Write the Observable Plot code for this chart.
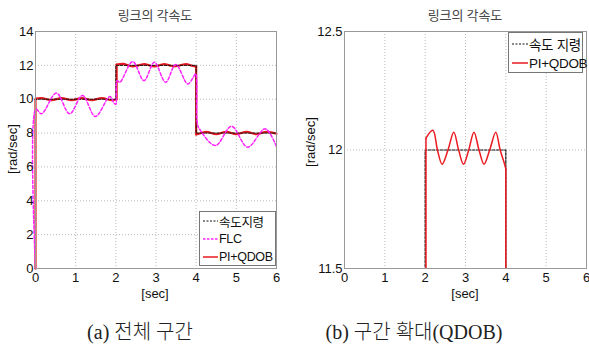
<!DOCTYPE html>
<html>
<head>
<meta charset="utf-8">
<script src="https://cdn.jsdelivr.net/npm/d3@7"></script>
<script src="https://cdn.jsdelivr.net/npm/@observablehq/plot@0.6"></script>
<style>
  body { margin: 0; background: #fff; }
  #wrap { position: relative; width: 589px; height: 345px; overflow: hidden; font-family: "Liberation Sans", Arial, "Noto Sans CJK KR", sans-serif; }
  .abs { position: absolute; white-space: nowrap; }
  .title { font-family: "Noto Sans CJK KR", sans-serif; font-size: 13px; color: #444; transform: translate(-50%, -50%); }
  .xlab { font-size: 13px; color: #111; transform: translate(-50%, -50%); }
  .ylab { font-size: 13px; color: #111; transform: translate(-50%, -50%) rotate(-90deg); }
  .cap { font-family: "Liberation Serif", "Noto Sans CJK KR", serif; font-size: 20px; color: #222; transform: translate(-50%, -50%); font-weight: 300; }
  .legend { background: #fff; border: 1px solid #777; box-sizing: border-box; }
  .row { position: absolute; left: 0; display: flex; align-items: center; }
  .row span { color: #111; }
</style>
</head>
<body>
<div id="wrap"></div>
<script>
// ---- data ----
const refTime   = [0, 0, 2, 2, 4, 4, 6];
const refValues = [0, 10, 10, 12, 12, 8, 8];

const flcTime   = [0, 0.01, 0.15, 0.52, 0.85, 1.17, 1.49, 1.85, 1.96, 2.0, 2.03, 2.1, 2.42, 2.70, 2.96, 3.24, 3.49, 3.79, 3.93, 3.99, 4.03, 4.08, 4.48, 4.88, 5.28, 5.72, 6.0];
const flcValues = [0, 9.4, 9.14, 10.36, 9.14, 10.22, 8.98, 10.16, 9.75, 9.7, 11.1, 11.0, 12.22, 11.1, 12.18, 11.0, 12.05, 10.9, 11.3, 11.5, 8.55, 8.25, 7.26, 8.4, 7.17, 8.25, 7.2];

const qdobTime   = [0, 0, 0.03, 0.15, 0.4, 0.65, 0.9, 1.15, 1.4, 1.65, 1.9, 2.02, 2.02, 2.19, 2.305, 2.42, 2.565, 2.71, 2.83, 2.95, 3.08, 3.21, 3.335, 3.46, 3.6, 3.75, 3.86, 3.97, 4.0, 4.0, 4.03, 4.25, 4.5, 4.75, 5.0, 5.25, 5.5, 5.75, 6.0];
const qdobValues = [0, 10.0, 10.04, 10.07, 9.94, 10.07, 9.94, 10.07, 9.94, 10.07, 9.94, 10.0, 12.05, 12.083, 12.0, 11.94, 12.0, 12.075, 12.0, 11.94, 12.0, 12.075, 12.0, 11.94, 12.0, 12.075, 12.0, 11.94, 11.92, 7.92, 7.93, 8.07, 7.93, 8.07, 7.93, 8.07, 7.93, 8.07, 7.96];

const xTicks = [0, 1, 2, 3, 4, 5, 6];
const yTicksA = [0, 2, 4, 6, 8, 10, 12, 14];
const yTicksB = [11.5, 12, 12.5];
const yTickLabelsB = ["11.5", "12", "12.5"];

const titleText = "링크의 각속도";
const legendA = ["속도지령", "FLC", "PI+QDOB"];
const legendB = ["속도 지령", "PI+QDOB"];
const captions = ["(a) 전체 구간", "(b) 구간 확대(QDOB)"];

// Split a series into smooth pieces (z) and vertical jump pairs (where time repeats)
function splitSeries(ts, vs) {
  const smooth = [], jumps = [];
  let seg = 0;
  for (let i = 0; i < ts.length; i++) {
    if (i > 0 && ts[i] === ts[i - 1]) {
      jumps.push({t: ts[i - 1], v: vs[i - 1], z: i}, {t: ts[i], v: vs[i], z: i});
      seg++;
    }
    smooth.push({t: ts[i], v: vs[i], z: seg});
  }
  return {smooth, jumps};
}

const ref  = refTime.map((t, i) => ({t, v: refValues[i]}));
const flcS = splitSeries(flcTime, flcValues);
const qdobS = splitSeries(qdobTime, qdobValues);

const RED = "#ea1a20", MAG = "#ff22ff", BLK = "#111";

const wrap = document.getElementById("wrap");
function addDiv(cls, text, x, y, extra = {}) {
  const d = document.createElement("div");
  d.className = "abs " + cls;
  d.textContent = text;
  d.style.left = x + "px"; d.style.top = y + "px";
  Object.assign(d.style, extra);
  wrap.appendChild(d);
  return d;
}

function seriesMarks(s, opts) {
  return [
    Plot.line(s.smooth, {x: "t", y: "v", z: "z", curve: "catmull-rom", ...opts}),
    Plot.line(s.jumps, {x: "t", y: "v", z: "z", ...opts})
  ];
}

function common(yTicks, yFmt, marks) {
  return [
    Plot.gridX(xTicks, {stroke: "#bbb", strokeOpacity: 1, strokeDasharray: "1,2"}),
    Plot.gridY(yTicks, {stroke: "#bbb", strokeOpacity: 1, strokeDasharray: "1,2"}),
    ...marks,
    Plot.frame({stroke: "#999"}),
    Plot.axisX(xTicks, {tickSize: 0, tickPadding: 4, fontSize: 13, label: null, tickFormat: d => String(d)}),
    Plot.axisY(yTicks, {tickSize: 0, tickPadding: 2, fontSize: 13, label: null, tickFormat: yFmt})
  ];
}

// ---- left chart ----
const plotA = Plot.plot({
  width: 295, height: 300,
  marginLeft: 35, marginRight: 19, marginTop: 31, marginBottom: 32,
  x: {domain: [0, 6]},
  y: {domain: [0, 14]},
  style: {fontFamily: "Liberation Sans, Arial, sans-serif", color: "#111", overflow: "visible", background: "transparent"},
  marks: common(yTicksA, d => String(d), [
    ...seriesMarks(qdobS, {stroke: RED, strokeWidth: 2.2}),
    Plot.line(ref, {x: "t", y: "v", stroke: BLK, strokeWidth: 1, strokeDasharray: "2.5,1.5"}),
    ...seriesMarks(flcS, {stroke: MAG, strokeWidth: 1.5, strokeDasharray: "3,2"})
  ])
});
plotA.style.position = "absolute"; plotA.style.left = "0px"; plotA.style.top = "0px";
wrap.appendChild(plotA);

// ---- right chart ----
const plotB = Plot.plot({
  width: 294, height: 300,
  marginLeft: 49, marginRight: 3, marginTop: 31, marginBottom: 32,
  x: {domain: [0, 6]},
  y: {domain: [11.5, 12.5]},
  style: {fontFamily: "Liberation Sans, Arial, sans-serif", color: "#111", overflow: "visible", background: "transparent"},
  marks: common(yTicksB, d => yTickLabelsB[yTicksB.indexOf(d)], [
    Plot.line(ref, {x: "t", y: "v", stroke: BLK, strokeWidth: 1.2, strokeDasharray: "2.5,1.5", clip: true}),
    ...seriesMarks(qdobS, {stroke: RED, strokeWidth: 1.5, clip: true})
  ])
});
plotB.style.position = "absolute"; plotB.style.left = "295px"; plotB.style.top = "0px";
wrap.appendChild(plotB);

// ---- titles, labels, captions ----
addDiv("title", titleText, 155, 14);
addDiv("title", titleText, 465, 14);
addDiv("xlab", "[sec]", 155, 293);
addDiv("xlab", "[sec]", 465, 293);
addDiv("ylab", "[rad/sec]", 12, 149);
addDiv("ylab", "[rad/sec]", 310, 142);
addDiv("cap", captions[0], 140, 330);
addDiv("cap", captions[1], 414, 330);

// ---- legends ----
function legend(x, y, w, h, items, styles, rowYs, lineW, fontSize) {
  const box = document.createElement("div");
  box.className = "abs legend";
  Object.assign(box.style, {left: x + "px", top: y + "px", width: w + "px", height: h + "px"});
  items.forEach((label, i) => {
    const row = document.createElement("div");
    row.className = "row";
    row.style.top = (rowYs[i] - 9) + "px";
    row.style.height = "18px";
    const s = styles[i];
    row.innerHTML = `<svg width="${lineW + 4}" height="18" style="display:block"><line x1="3" x2="${lineW + 3}" y1="9" y2="9" stroke="${s.stroke}" stroke-width="${s.w}" ${s.dash ? `stroke-dasharray="${s.dash}"` : ""}/></svg>`;
    const sp = document.createElement("span");
    sp.textContent = label;
    sp.style.fontSize = fontSize + "px";
    sp.style.letterSpacing = "-0.3px";
    row.appendChild(sp);
    box.appendChild(row);
  });
  wrap.appendChild(box);
}
legend(199, 211, 77, 55, legendA,
  [{stroke: BLK, w: 1.2, dash: "2,1.5"}, {stroke: MAG, w: 1.5, dash: "2.5,1.5"}, {stroke: RED, w: 1.5}],
  [9, 27, 45], 15, 12.5);
legend(508, 32, 75, 41, legendB,
  [{stroke: BLK, w: 1.2, dash: "2,1.5"}, {stroke: RED, w: 1.5}],
  [11, 30], 16, 13.5);
</script>
</body>
</html>
